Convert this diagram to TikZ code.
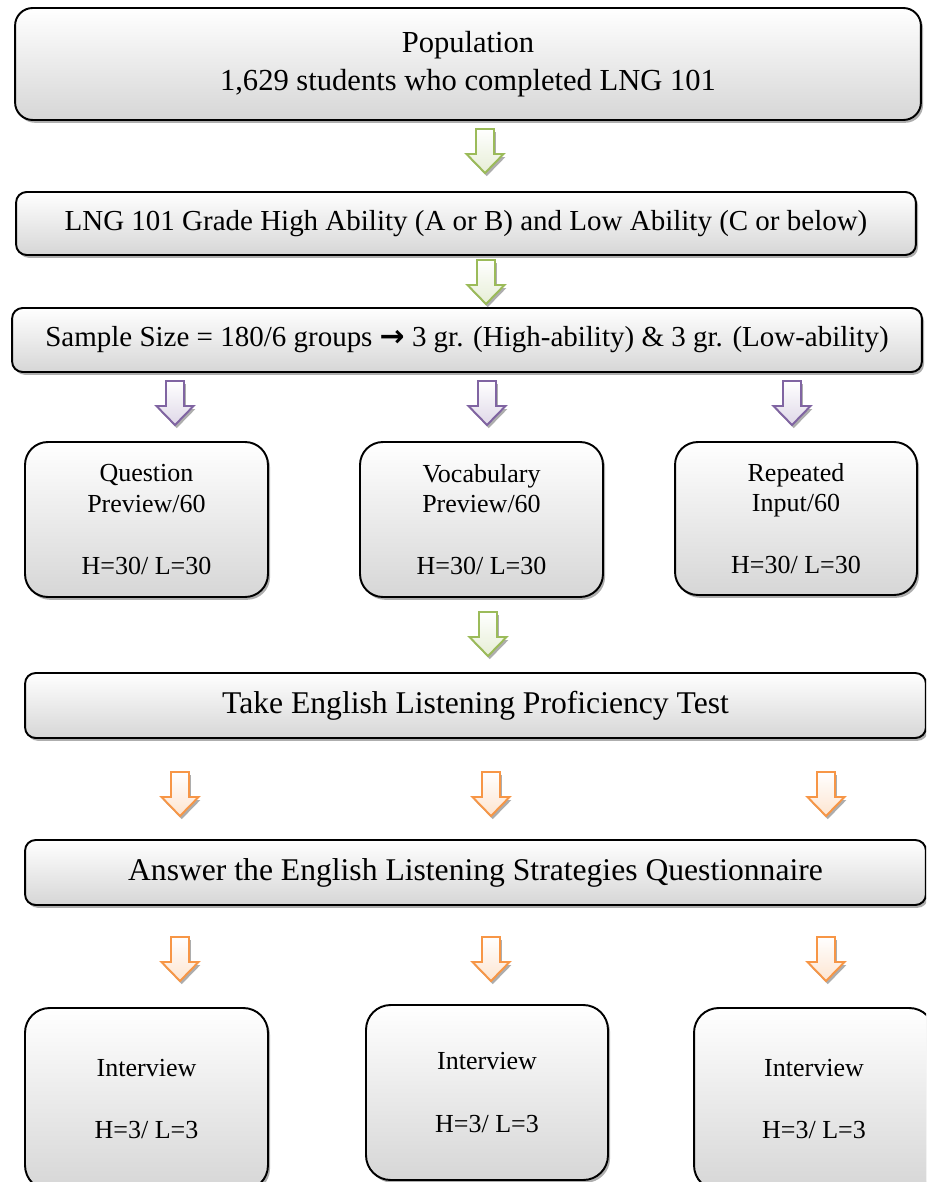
\documentclass[tikz,border=0pt]{standalone}
\usepackage{fontspec}
\setmainfont{Liberation Serif}
\newfontfamily\arrowfont{DejaVu Sans}
\definecolor{flowGreen}{HTML}{9BBB59}
\definecolor{flowPurple}{HTML}{8064A2}
\definecolor{flowOrange}{HTML}{F79646}
\usetikzlibrary{shadows, positioning}
\tikzset{
  flowbox/.style={draw=black, line width=1.1pt, top color=white, bottom color=black!16,
    align=center, inner sep=0pt,
    drop shadow={shadow xshift=1.2pt, shadow yshift=-1.6pt, fill=black!45, opacity=.7}},
  pics/blockdown/.style={code={
    \path[draw=#1, line width=1.1pt, line join=miter, top color=white, bottom color=#1!25,
      drop shadow={shadow xshift=1pt, shadow yshift=-1.8pt, fill=black!40, opacity=.8}]
      (-9,-22) -- (9,-22) -- (9,3) -- (18.5,3) -- (0,22) -- (-18.5,3) -- (-9,3) -- cycle;
  }}
}
\newcommand{\bigfont}{\fontsize{17.4}{21.6}\selectfont}
\newcommand{\midfont}{\fontsize{16.5}{20}\selectfont}
\newcommand{\boxfont}{\fontsize{14.8}{17.6}\selectfont}

\begin{document}
\begin{tikzpicture}[x=0.02cm, y=-0.02cm]
  \clip (0,0) rectangle (926,1182);
  % top boxes
  \node[flowbox, rounded corners=10pt, minimum width=18.12cm, minimum height=2.24cm, font=\bigfont] (pop) at (468,64)
    {Population\\1,629 students who completed LNG 101};
  \node[flowbox, rounded corners=6pt, minimum width=18.0cm, minimum height=1.26cm, font=\midfont] (grade) at (466,223.5)
    {LNG 101 Grade High Ability (A or B) and Low Ability (C or below)};
  \node[flowbox, rounded corners=6pt, minimum width=18.2cm, minimum height=1.28cm, font=\midfont] (sample) at (467,340)
    {Sample Size = 180/6 groups {\arrowfont\bfseries\fontsize{17}{18}\selectfont →} 3 gr. (High-ability) \& 3 gr. (Low-ability)};

  % the three groups
  \node[flowbox, rounded corners=13pt, minimum width=4.86cm, minimum height=3.1cm, font=\boxfont] (qp) at (146.5,519.5)
    {Question\\Preview/60\\[17.6pt]H=30/ L=30};
  \node[flowbox, rounded corners=13pt, minimum width=4.86cm, minimum height=3.1cm, font=\boxfont] (vp) at (481.5,519.5)
    {Vocabulary\\Preview/60\\[17.6pt]H=30/ L=30};
  \node[flowbox, rounded corners=13pt, minimum width=4.84cm, minimum height=3.06cm, font=\boxfont] (ri) at (796,518.5)
    {Repeated\\Input/60\\[17.6pt]H=30/ L=30};

  % test and questionnaire
  \node[flowbox, rounded corners=6pt, minimum width=18.02cm, minimum height=1.3cm, font=\fontsize{18}{21.6}\selectfont] (test) at (475.5,705.5)
    {Take English Listening Proficiency Test};
  \node[flowbox, rounded corners=6pt, minimum width=18.02cm, minimum height=1.3cm, font=\fontsize{18}{21.6}\selectfont] (quest) at (475.5,872.5)
    {Answer the English Listening Strategies Questionnaire};

  % interviews
  \node[flowbox, rounded corners=14pt, minimum width=4.86cm, minimum height=3.64cm, font=\boxfont] (int1) at (146.5,1099)
    {Interview\\[18pt]H=3/ L=3};
  \node[flowbox, rounded corners=14pt, minimum width=4.84cm, minimum height=3.5cm, font=\boxfont] (int2) at (487,1092.5)
    {Interview\\[18pt]H=3/ L=3};
  \node[flowbox, rounded corners=14pt, minimum width=4.8cm, minimum height=3.64cm, font=\boxfont] (int3) at (814,1099)
    {Interview\\[18pt]H=3/ L=3};

  % block arrows
  \pic (arrA) at (485,151) {blockdown=flowGreen};
  \pic (arrB) at (486,282) {blockdown=flowGreen};
  \pic (arrQ) at (175,403) {blockdown=flowPurple};
  \pic (arrV) at (487,403) {blockdown=flowPurple};
  \pic (arrR) at (792,403) {blockdown=flowPurple};
  \pic (arrT) at (488,634) {blockdown=flowGreen};
  \pic (arrT1) at (180,794) {blockdown=flowOrange};
  \pic (arrT2) at (491,794) {blockdown=flowOrange};
  \pic (arrT3) at (826,794) {blockdown=flowOrange};
  \pic (arrI1) at (180,959) {blockdown=flowOrange};
  \pic (arrI2) at (491,959) {blockdown=flowOrange};
  \pic (arrI3) at (826,959) {blockdown=flowOrange};
\end{tikzpicture}
\end{document}
